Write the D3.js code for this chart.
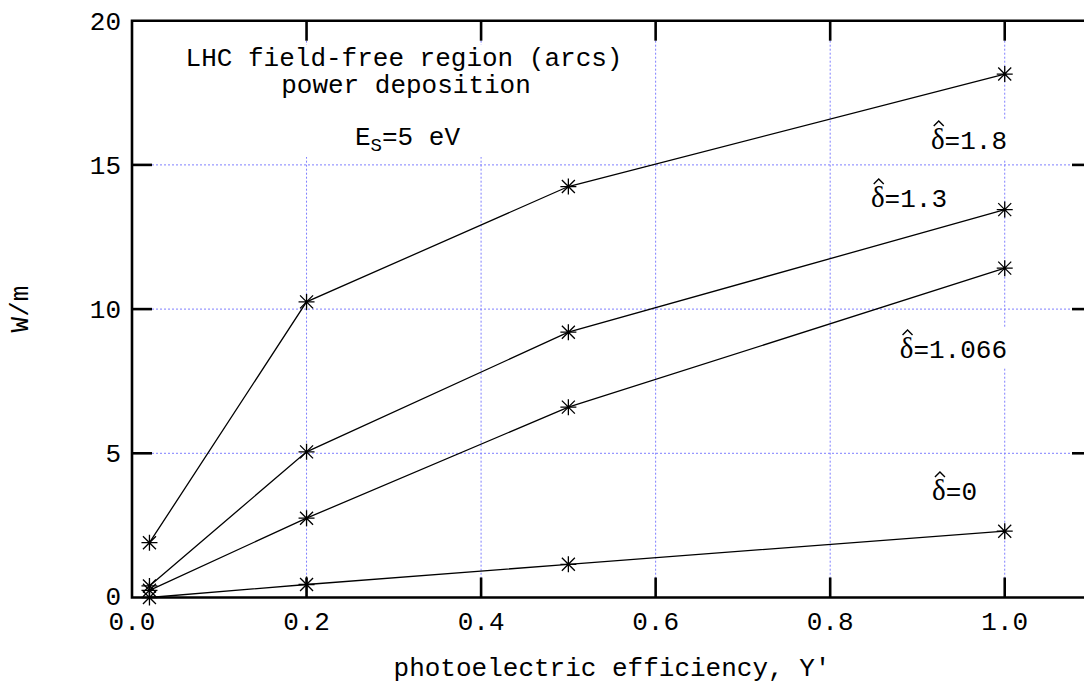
<!DOCTYPE html>
<html>
<head>
<meta charset="utf-8">
<script src="https://cdn.jsdelivr.net/npm/d3@7"></script>
<style>
  html, body { margin: 0; padding: 0; background: #fff; }
  svg { display: block; }
  text { font-family: "Liberation Mono", "Courier New", monospace; fill: #000; }
</style>
</head>
<body>
<svg id="chart" width="1084" height="700"></svg>
<script>
// ---- data ----
const xValues = [0.02, 0.2, 0.5, 1.0];
const seriesNames = ["1.8", "1.3", "1.066", "0"];
const delta18 = [1.9, 10.25, 14.25, 18.15];
const delta13 = [0.4, 5.05, 9.2, 13.45];
const delta1066 = [0.25, 2.75, 6.6, 11.42];
const delta0 = [0.0, 0.45, 1.15, 2.3];
const xTicks = [0.0, 0.2, 0.4, 0.6, 0.8, 1.0];
const yTicks = [0, 5, 10, 15, 20];
const xGrid = [0.2, 0.4, 0.6, 0.8, 1.0];
const yGrid = [5, 10, 15];
const titleLines = ["LHC field-free region (arcs)", "power deposition"];
const xLabel = "photoelectric efficiency, Y'";
const yLabel = "W/m";

const seriesValues = [delta18, delta13, delta1066, delta0];

// ---- layout ----
const svg = d3.select("#chart");
const pL = 132, pR = 1092, pT = 20.7, pB = 597.5;
const x = d3.scaleLinear().domain([0, 1.1]).range([pL, pR]);
const y = d3.scaleLinear().domain([0, 20]).range([pB, pT]);
const FS = 26;
const SERIF = "Liberation Serif, DejaVu Serif, serif";

// grid
const grid = svg.append("g");
grid.selectAll("line.gx").data(xGrid).join("line")
  .attr("x1", d => x(d)).attr("x2", d => x(d))
  .attr("y1", pT).attr("y2", pB)
  .attr("stroke", "#7f7fff").attr("stroke-width", 1).attr("stroke-dasharray", "2,2");
grid.selectAll("line.gy").data(yGrid).join("line")
  .attr("x1", pL).attr("x2", pR)
  .attr("y1", d => y(d)).attr("y2", d => y(d))
  .attr("stroke", "#7f7fff").attr("stroke-width", 1).attr("stroke-dasharray", "2,2");

// label box (opaque background that hides the grid)
svg.append("rect").attr("x", 175).attr("y", 45).attr("width", 455).attr("height", 112).attr("fill", "#fff");

// series
const line = d3.line().x((d, i) => x(xValues[i])).y(d => y(d));
const starPath = "M-8,0H8M0,-8V8M-6.5,-6.5L6.5,6.5M-6.5,6.5L6.5,-6.5";
seriesValues.forEach(vals => {
  svg.append("path").datum(vals).attr("d", line)
    .attr("fill", "none").attr("stroke", "#000").attr("stroke-width", 1.3);
  svg.append("g").selectAll("path").data(vals).join("path")
    .attr("transform", (d, i) => `translate(${x(xValues[i])},${y(d)})`)
    .attr("d", starPath).attr("stroke", "#000").attr("stroke-width", 1.3).attr("fill", "none");
});

// axes frame and ticks
const axisG = svg.append("g");
const frame = axisG.append("g").attr("stroke", "#000").attr("stroke-width", 2.6).attr("fill", "none");
frame.append("path").attr("d", `M${pL},${pT}H${pR}V${pB}H${pL}Z`);
const TL = 20;
frame.selectAll("line.tb").data(xTicks.filter(d => d > 0)).join("line")
  .attr("x1", d => x(d)).attr("x2", d => x(d)).attr("y1", pB).attr("y2", pB - TL);
frame.selectAll("line.tt").data(xTicks.filter(d => d > 0)).join("line")
  .attr("x1", d => x(d)).attr("x2", d => x(d)).attr("y1", pT).attr("y2", pT + TL);
frame.selectAll("line.tl").data(yTicks.filter(d => d > 0 && d < 20)).join("line")
  .attr("x1", pL).attr("x2", pL + TL).attr("y1", d => y(d)).attr("y2", d => y(d));
frame.selectAll("line.tr").data(yTicks.filter(d => d > 0 && d < 20)).join("line")
  .attr("x1", pR).attr("x2", pR - TL).attr("y1", d => y(d)).attr("y2", d => y(d));

// tick labels
axisG.selectAll("text.xt").data(xTicks).join("text")
  .attr("x", d => x(d)).attr("y", 630).attr("text-anchor", "middle")
  .attr("font-size", FS).text(d => d3.format(".1f")(d));
axisG.selectAll("text.yt").data(yTicks).join("text")
  .attr("x", 121).attr("y", d => y(d)).attr("dy", d => d === 0 ? "0.3em" : "0.35em").attr("text-anchor", "end")
  .attr("font-size", FS).text(d => d);

// axis labels
svg.append("text").attr("x", 612).attr("y", 676).attr("text-anchor", "middle")
  .attr("font-size", FS).text(xLabel);
svg.append("text").attr("transform", "translate(28,309) rotate(-90)").attr("text-anchor", "middle")
  .attr("font-size", FS).text(yLabel);

// title (one text element, two lines)
const title = svg.append("text").attr("text-anchor", "middle").attr("font-size", FS);
title.append("tspan").attr("x", 404).attr("y", 66).text(titleLines[0]);
title.append("tspan").attr("x", 406).attr("y", 93).text(titleLines[1]);
const es = svg.append("text").attr("x", 355).attr("y", 145).attr("font-size", FS);
es.append("tspan").text("E");
es.append("tspan").attr("dy", 6).attr("font-size", 19).text("S");
es.append("tspan").attr("dy", -6).text("=5 eV");

// delta labels (delta with a hat drawn as a small chevron)
const deltaPos = [
  {xEnd: 1007, yBase: 149},
  {xEnd: 947, yBase: 207},
  {xEnd: 1007, yBase: 358},
  {xEnd: 977, yBase: 500}
];
seriesNames.forEach((name, i) => {
  const p = deltaPos[i];
  const g = svg.append("g");
  const rect = g.append("rect").attr("fill", "#fff");
  const t = g.append("text").attr("x", p.xEnd).attr("y", p.yBase).attr("text-anchor", "end")
    .attr("font-size", FS);
  t.append("tspan").attr("font-family", SERIF).attr("font-size", 29).text("δ");
  t.append("tspan").text("=" + name);
  const ext = t.node().getExtentOfChar(0);
  const cx = ext.x + ext.width / 2 + 1;
  const hy = p.yBase - 28;
  const bb = t.node().getBBox();
  rect.attr("x", bb.x - 4).attr("y", bb.y - 4).attr("width", bb.width + 8).attr("height", bb.height + 6);
  g.append("path").attr("d", `M${cx - 5},${hy + 5}L${cx},${hy}L${cx + 5},${hy + 5}`)
    .attr("fill", "none").attr("stroke", "#000").attr("stroke-width", 1.4);
});
</script>
</body>
</html>
